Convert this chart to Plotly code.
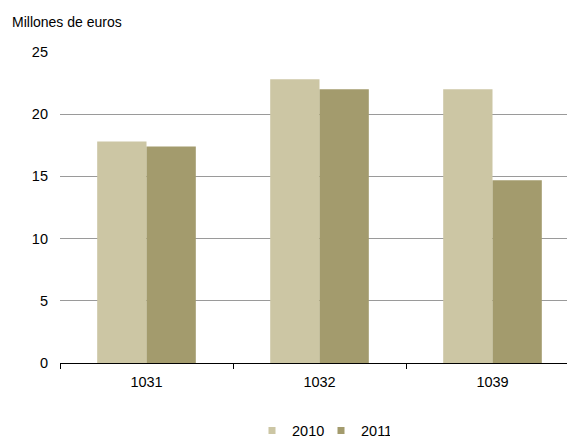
import plotly.graph_objects as go

categories = ["1031", "1032", "1039"]
values_2010 = [17.8, 22.8, 22.0]
values_2011 = [17.4, 22.0, 14.7]
series_names = ["2010", "2011"]
colors = ["#CCC6A4", "#A39B6D"]
y_ticks = [0, 5, 10, 15, 20, 25]

fig = go.Figure()
for name, vals, col in zip(series_names, [values_2010, values_2011], colors):
    fig.add_trace(go.Bar(x=categories, y=vals, name=name, showlegend=False,
                         marker=dict(color=col, line=dict(width=0))))
for name, col in zip(series_names, colors):
    fig.add_trace(go.Scatter(x=[None], y=[None], mode="markers", name=name,
                             marker=dict(symbol="square", size=7, color=col)))

# page body has an 8px margin; figure is 567x430 placed at (8, 8)
FW, FH = 567, 430
L, W, T, H = 52, 515, 44, 311
CAT_PX = 173  # width of one category slot in the reference
fig.update_layout(
    width=FW, height=FH,
    margin=dict(l=L, r=FW - L - W, t=T, b=FH - T - H),
    paper_bgcolor="white", plot_bgcolor="white",
    font=dict(family="Liberation Sans, Arial, sans-serif", size=14.5, color="#000000"),
    barmode="group", bargap=0.43, bargroupgap=0,
    showlegend=True,
    legend=dict(orientation="h", xref="paper", x=(244 - L) / W, xanchor="left",
                yref="container", y=(FH - 422.5) / FH, yanchor="middle",
                font=dict(size=14.5), traceorder="normal", entrywidth=24,
                itemwidth=30, bgcolor="rgba(0,0,0,0)"),
)
fig.add_annotation(text="Millones de euros", xref="paper", yref="paper",
                   x=-(L - 2) / W, y=1 + (T - 14) / H, xanchor="left", yanchor="middle",
                   showarrow=False, font=dict(size=14))

fig.update_yaxes(range=[0, 25], tickvals=y_ticks, showgrid=True, gridcolor="#9a9a9a",
                 gridwidth=1, zeroline=False, showline=False, ticks="",
                 ticklabelstandoff=11, automargin=False)
fig.update_xaxes(range=[-0.5, W / CAT_PX - 0.5],
                 showline=True, linecolor="#000000", linewidth=1, ticks="outside",
                 tickson="boundaries", ticklen=5, tickcolor="#000000", showgrid=False,
                 ticklabelstandoff=6, automargin=False)

fig.write_html("out.html")
